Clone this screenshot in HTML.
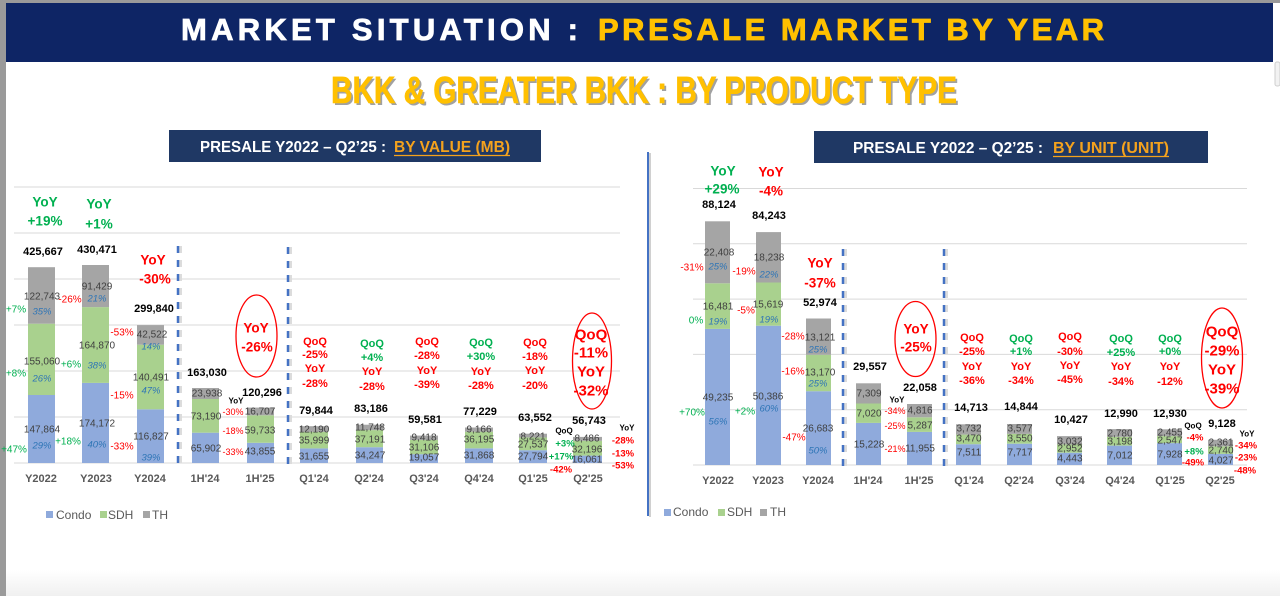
<!DOCTYPE html>
<html><head><meta charset="utf-8">
<style>
html,body{margin:0;padding:0;width:1280px;height:596px;overflow:hidden;background:#fff}
svg{display:block}
text{font-family:"Liberation Sans",sans-serif;text-anchor:middle;dominant-baseline:central}
.h{text-anchor:start;dominant-baseline:auto;font-weight:bold}
.v{font-size:10px;fill:#404040}
.p{font-size:9.5px;font-style:italic;fill:#2e75b6}
.t{font-size:11px;font-weight:bold;fill:#000}
.s{font-size:10px}
.g{fill:#00b050}
.r{fill:#ff0000}
.a{font-size:11px;font-weight:bold}
.b{font-size:13.5px;font-weight:bold}
.e{font-size:15px;font-weight:bold;fill:#ff0000}
.c{font-size:11px;font-weight:bold;fill:#595959}
.k{font-size:8px;font-weight:bold;fill:#000}
.m{font-size:9px}
.n{font-size:9.5px;font-weight:bold}
.l{font-size:12px;fill:#595959;text-anchor:start}
</style></head>
<body>
<svg width="1280" height="596" viewBox="0 0 1280 596" xmlns="http://www.w3.org/2000/svg">
<defs>
<linearGradient id="bg" x1="0" y1="0" x2="0" y2="1"><stop offset="0" stop-color="#ffffff"/><stop offset="1" stop-color="#f0f0f0"/></linearGradient>
</defs>
<rect x="0" y="0" width="1280" height="596" fill="#fff"/>
<rect x="0" y="570" width="1280" height="26" fill="url(#bg)"/>
<!-- borders -->
<rect x="0" y="0" width="1280" height="3" fill="#9a9a9a"/>
<rect x="0" y="0" width="6" height="596" fill="#9a9a9a"/>
<rect x="1275" y="62" width="5" height="24" rx="2" fill="#f2f2f2" stroke="#cfcfcf" stroke-width="1"/>
<!-- header -->
<rect x="6" y="3" width="1267" height="59" fill="#0e2565"/>
<text class="h" x="181" y="40" font-size="31" fill="#fff" stroke="#fff" stroke-width="0.8" textLength="397">MARKET SITUATION :</text>
<text class="h" x="598" y="40" font-size="31" fill="#ffc000" stroke="#ffc000" stroke-width="0.8" textLength="506">PRESALE MARKET BY YEAR</text>
<!-- subtitle -->
<text class="h" x="333" y="105" font-size="38" fill="#8a8a8a" fill-opacity="0.8" textLength="626" lengthAdjust="spacingAndGlyphs">BKK &amp; GREATER BKK : BY PRODUCT TYPE</text>
<text class="h" x="331" y="103" font-size="38" fill="#ffc000" stroke="#ffc000" stroke-width="0.6" textLength="626" lengthAdjust="spacingAndGlyphs">BKK &amp; GREATER BKK : BY PRODUCT TYPE</text>
<!-- title boxes -->
<rect x="169" y="130" width="372" height="32" fill="#1f3864"/>
<text class="h" x="200" y="152" font-size="16" fill="#fff" textLength="186" lengthAdjust="spacingAndGlyphs">PRESALE Y2022 – Q2’25 :</text>
<text class="h" x="394" y="152" font-size="16" fill="#f4a21d" textLength="116" lengthAdjust="spacingAndGlyphs">BY VALUE (MB)</text>
<line x1="394" y1="155.5" x2="510" y2="155.5" stroke="#f4a21d" stroke-width="1.2"/>
<rect x="814" y="131" width="394" height="32" fill="#1f3864"/>
<text class="h" x="853" y="153" font-size="16" fill="#fff" textLength="190" lengthAdjust="spacingAndGlyphs">PRESALE Y2022 – Q2’25  :</text>
<text class="h" x="1053" y="153" font-size="16" fill="#f4a21d" textLength="116" lengthAdjust="spacingAndGlyphs">BY UNIT (UNIT)</text>
<line x1="1053" y1="156.5" x2="1169" y2="156.5" stroke="#f4a21d" stroke-width="1.2"/>
<!-- divider -->
<line x1="650" y1="153" x2="650" y2="517" stroke="#d0d0d0" stroke-width="2"/>
<line x1="648" y1="152" x2="648" y2="516" stroke="#4472c4" stroke-width="2"/>

<!-- ============ LEFT CHART ============ -->
<g stroke="#d9d9d9" stroke-width="1">
<line x1="14" y1="187" x2="620" y2="187"/>
<line x1="14" y1="233" x2="620" y2="233"/>
<line x1="14" y1="279" x2="620" y2="279"/>
<line x1="14" y1="325" x2="620" y2="325"/>
<line x1="14" y1="371" x2="620" y2="371"/>
<line x1="14" y1="417" x2="620" y2="417"/>
<line x1="14" y1="463" x2="620" y2="463"/>
</g>
<!-- bars -->
<g>
<rect x="28" y="395.0" width="27" height="68.0" fill="#8faadc"/>
<rect x="28" y="323.7" width="27" height="71.3" fill="#a9d18e"/>
<rect x="28" y="267.2" width="27" height="56.5" fill="#a5a5a5"/>
<rect x="82" y="382.9" width="27" height="80.1" fill="#8faadc"/>
<rect x="82" y="307.1" width="27" height="75.8" fill="#a9d18e"/>
<rect x="82" y="265.0" width="27" height="42.1" fill="#a5a5a5"/>
<rect x="137" y="409.3" width="27" height="53.7" fill="#8faadc"/>
<rect x="137" y="344.7" width="27" height="64.6" fill="#a9d18e"/>
<rect x="137" y="325.1" width="27" height="19.6" fill="#a5a5a5"/>
<rect x="192" y="432.7" width="27" height="30.3" fill="#8faadc"/>
<rect x="192" y="399.0" width="27" height="33.7" fill="#a9d18e"/>
<rect x="192" y="388.0" width="27" height="11.0" fill="#a5a5a5"/>
<rect x="247" y="442.8" width="27" height="20.2" fill="#8faadc"/>
<rect x="247" y="415.3" width="27" height="27.5" fill="#a9d18e"/>
<rect x="247" y="407.6" width="27" height="7.7" fill="#a5a5a5"/>
<rect x="300" y="448.4" width="28" height="14.6" fill="#8faadc"/>
<rect x="300" y="431.8" width="28" height="16.6" fill="#a9d18e"/>
<rect x="300" y="426.2" width="28" height="5.6" fill="#a5a5a5"/>
<rect x="356" y="447.2" width="27" height="15.8" fill="#8faadc"/>
<rect x="356" y="430.1" width="27" height="17.1" fill="#a9d18e"/>
<rect x="356" y="424.7" width="27" height="5.4" fill="#a5a5a5"/>
<rect x="410" y="454.2" width="28" height="8.8" fill="#8faadc"/>
<rect x="410" y="439.9" width="28" height="14.3" fill="#a9d18e"/>
<rect x="410" y="435.6" width="28" height="4.3" fill="#a5a5a5"/>
<rect x="465" y="448.3" width="28" height="14.7" fill="#8faadc"/>
<rect x="465" y="431.7" width="28" height="16.6" fill="#a9d18e"/>
<rect x="465" y="427.5" width="28" height="4.2" fill="#a5a5a5"/>
<rect x="519" y="450.2" width="28" height="12.8" fill="#8faadc"/>
<rect x="519" y="437.5" width="28" height="12.7" fill="#a9d18e"/>
<rect x="519" y="433.7" width="28" height="3.8" fill="#a5a5a5"/>
<rect x="573" y="455.6" width="29" height="7.4" fill="#8faadc"/>
<rect x="573" y="440.8" width="29" height="14.8" fill="#a9d18e"/>
<rect x="573" y="436.9" width="29" height="3.9" fill="#a5a5a5"/>
</g>
<!-- dashed separators -->
<g stroke-dasharray="7 7">
<line x1="180.5" y1="246" x2="180.5" y2="468" stroke="#dcdcdc" stroke-width="3"/>
<line x1="178" y1="246" x2="178" y2="468" stroke="#4472c4" stroke-width="2.5"/>
<line x1="290.5" y1="247" x2="290.5" y2="468" stroke="#dcdcdc" stroke-width="3"/>
<line x1="288" y1="247" x2="288" y2="468" stroke="#4472c4" stroke-width="2.5"/>
</g>
<!-- Y2022 labels -->
<text class="b g" x="45" y="202">YoY</text>
<text class="b g" x="45" y="221">+19%</text>
<text class="t" x="43" y="252">425,667</text>
<text class="v" x="42" y="297">122,743</text>
<text class="p" x="42" y="312">35%</text>
<text class="v" x="42" y="362">155,060</text>
<text class="p" x="42" y="379">26%</text>
<text class="v" x="42" y="430">147,864</text>
<text class="p" x="42" y="446">29%</text>
<text class="s g" x="16" y="310">+7%</text>
<text class="s g" x="16" y="374">+8%</text>
<text class="s g" x="14" y="450">+47%</text>
<!-- Y2023 -->
<text class="b g" x="99" y="204">YoY</text>
<text class="b g" x="99" y="224">+1%</text>
<text class="t" x="97" y="250">430,471</text>
<text class="v" x="97" y="287">91,429</text>
<text class="p" x="97" y="299">21%</text>
<text class="v" x="97" y="346">164,870</text>
<text class="p" x="97" y="366">38%</text>
<text class="v" x="97" y="424">174,172</text>
<text class="p" x="97" y="445">40%</text>
<text class="s r" x="70" y="300">-26%</text>
<text class="s g" x="71" y="365">+6%</text>
<text class="s g" x="68" y="442">+18%</text>
<!-- Y2024 -->
<text class="b r" x="153" y="260">YoY</text>
<text class="b r" x="155" y="279">-30%</text>
<text class="t" x="154" y="309">299,840</text>
<text class="v" x="152" y="335">42,522</text>
<text class="p" x="151" y="347">14%</text>
<text class="v" x="151" y="378">140,491</text>
<text class="p" x="151" y="391">47%</text>
<text class="v" x="151" y="437">116,827</text>
<text class="p" x="151" y="458">39%</text>
<text class="s r" x="122" y="333">-53%</text>
<text class="s r" x="122" y="396">-15%</text>
<text class="s r" x="122" y="447">-33%</text>
<!-- 1H'24 -->
<text class="t" x="207" y="373">163,030</text>
<text class="v" x="207" y="394">23,938</text>
<text class="v" x="206" y="417">73,190</text>
<text class="v" x="206" y="449">65,902</text>
<!-- 1H'25 -->
<ellipse cx="256.5" cy="336" rx="20.5" ry="41" fill="none" stroke="#ff0000" stroke-width="1.3"/>
<text class="b r" x="256" y="328" font-size="14">YoY</text>
<text class="b r" x="257" y="347" font-size="14">-26%</text>
<text class="t" x="262" y="393">120,296</text>
<text class="k" x="236" y="401">YoY</text>
<text class="m r" x="233" y="412">-30%</text>
<text class="m r" x="233" y="431">-18%</text>
<text class="m r" x="233" y="452">-33%</text>
<text class="v" x="260" y="412">16,707</text>
<text class="v" x="260" y="431">59,733</text>
<text class="v" x="260" y="452">43,855</text>
<!-- Q1'24 -->
<text class="a r" x="315" y="342">QoQ</text>
<text class="a r" x="315" y="355">-25%</text>
<text class="a r" x="315" y="369">YoY</text>
<text class="a r" x="315" y="384">-28%</text>
<text class="t" x="316" y="411">79,844</text>
<text class="v" x="314" y="430">12,190</text>
<text class="v" x="314" y="441">35,999</text>
<text class="v" x="314" y="457">31,655</text>
<!-- Q2'24 -->
<text class="a g" x="372" y="344">QoQ</text>
<text class="a g" x="372" y="358">+4%</text>
<text class="a r" x="372" y="372">YoY</text>
<text class="a r" x="372" y="387">-28%</text>
<text class="t" x="371" y="409">83,186</text>
<text class="v" x="370" y="428">11,748</text>
<text class="v" x="370" y="440">37,191</text>
<text class="v" x="370" y="456">34,247</text>
<!-- Q3'24 -->
<text class="a r" x="427" y="342">QoQ</text>
<text class="a r" x="427" y="356">-28%</text>
<text class="a r" x="427" y="371">YoY</text>
<text class="a r" x="427" y="385">-39%</text>
<text class="t" x="425" y="420">59,581</text>
<text class="v" x="424" y="438">9,418</text>
<text class="v" x="424" y="448">31,106</text>
<text class="v" x="424" y="458">19,057</text>
<!-- Q4'24 -->
<text class="a g" x="481" y="343">QoQ</text>
<text class="a g" x="481" y="357">+30%</text>
<text class="a r" x="481" y="372">YoY</text>
<text class="a r" x="481" y="386">-28%</text>
<text class="t" x="480" y="412">77,229</text>
<text class="v" x="479" y="430">9,166</text>
<text class="v" x="479" y="440">36,195</text>
<text class="v" x="479" y="456">31,868</text>
<!-- Q1'25 -->
<text class="a r" x="535" y="343">QoQ</text>
<text class="a r" x="535" y="357">-18%</text>
<text class="a r" x="535" y="371">YoY</text>
<text class="a r" x="535" y="386">-20%</text>
<text class="t" x="535" y="418">63,552</text>
<text class="v" x="533" y="437">8,221</text>
<text class="v" x="533" y="445">27,537</text>
<text class="v" x="533" y="457">27,794</text>
<text class="k" x="564" y="431" font-size="9">QoQ</text>
<text class="n g" x="565" y="444">+3%</text>
<text class="n g" x="561" y="457">+17%</text>
<text class="n r" x="561" y="470">-42%</text>
<!-- Q2'25 -->
<ellipse cx="592" cy="361" rx="19.5" ry="48" fill="none" stroke="#ff0000" stroke-width="1.3"/>
<text class="e" x="591" y="335">QoQ</text>
<text class="e" x="591" y="353">-11%</text>
<text class="e" x="591" y="372">YoY</text>
<text class="e" x="591" y="391">-32%</text>
<text class="t" x="589" y="421">56,743</text>
<text class="v" x="587" y="439">8,486</text>
<text class="v" x="587" y="450">32,196</text>
<text class="v" x="587" y="460">16,061</text>
<text class="k" x="627" y="428" font-size="9">YoY</text>
<text class="n r" x="623" y="441">-28%</text>
<text class="n r" x="623" y="454">-13%</text>
<text class="n r" x="623" y="466">-53%</text>
<!-- left categories -->
<text class="c" x="41" y="479">Y2022</text>
<text class="c" x="96" y="479">Y2023</text>
<text class="c" x="150" y="479">Y2024</text>
<text class="c" x="205" y="479">1H'24</text>
<text class="c" x="260" y="479">1H'25</text>
<text class="c" x="314" y="479">Q1'24</text>
<text class="c" x="369" y="479">Q2'24</text>
<text class="c" x="424" y="479">Q3'24</text>
<text class="c" x="479" y="479">Q4'24</text>
<text class="c" x="533" y="479">Q1'25</text>
<text class="c" x="588" y="479">Q2'25</text>
<!-- left legend -->
<rect x="46" y="511" width="7" height="7" fill="#8faadc"/>
<text class="l" x="56" y="515">Condo</text>
<rect x="100" y="511" width="7" height="7" fill="#a9d18e"/>
<text class="l" x="108" y="515">SDH</text>
<rect x="143" y="511" width="7" height="7" fill="#a5a5a5"/>
<text class="l" x="152" y="515">TH</text>

<!-- ============ RIGHT CHART ============ -->
<g stroke="#d9d9d9" stroke-width="1">
<line x1="693" y1="188.5" x2="1247" y2="188.5"/>
<line x1="693" y1="243.8" x2="1247" y2="243.8"/>
<line x1="693" y1="299.1" x2="1247" y2="299.1"/>
<line x1="693" y1="354.4" x2="1247" y2="354.4"/>
<line x1="693" y1="409.7" x2="1247" y2="409.7"/>
<line x1="693" y1="465" x2="1247" y2="465"/>
</g>
<g>
<rect x="705" y="328.9" width="25" height="136.1" fill="#8faadc"/>
<rect x="705" y="283.3" width="25" height="45.6" fill="#a9d18e"/>
<rect x="705" y="221.3" width="25" height="62.0" fill="#a5a5a5"/>
<rect x="756" y="325.7" width="25" height="139.3" fill="#8faadc"/>
<rect x="756" y="282.5" width="25" height="43.2" fill="#a9d18e"/>
<rect x="756" y="232.1" width="25" height="50.4" fill="#a5a5a5"/>
<rect x="806" y="391.2" width="25" height="73.8" fill="#8faadc"/>
<rect x="806" y="354.8" width="25" height="36.4" fill="#a9d18e"/>
<rect x="806" y="318.5" width="25" height="36.3" fill="#a5a5a5"/>
<rect x="856" y="422.9" width="25" height="42.1" fill="#8faadc"/>
<rect x="856" y="403.5" width="25" height="19.4" fill="#a9d18e"/>
<rect x="856" y="383.3" width="25" height="20.2" fill="#a5a5a5"/>
<rect x="907" y="431.9" width="25" height="33.1" fill="#8faadc"/>
<rect x="907" y="417.3" width="25" height="14.6" fill="#a9d18e"/>
<rect x="907" y="404.0" width="25" height="13.3" fill="#a5a5a5"/>
<rect x="956" y="444.2" width="25" height="20.8" fill="#8faadc"/>
<rect x="956" y="434.6" width="25" height="9.6" fill="#a9d18e"/>
<rect x="956" y="424.3" width="25" height="10.3" fill="#a5a5a5"/>
<rect x="1007" y="443.7" width="25" height="21.3" fill="#8faadc"/>
<rect x="1007" y="433.9" width="25" height="9.8" fill="#a9d18e"/>
<rect x="1007" y="424.0" width="25" height="9.9" fill="#a5a5a5"/>
<rect x="1057" y="452.7" width="25" height="12.3" fill="#8faadc"/>
<rect x="1057" y="444.5" width="25" height="8.2" fill="#a9d18e"/>
<rect x="1057" y="436.1" width="25" height="8.4" fill="#a5a5a5"/>
<rect x="1107" y="445.6" width="25" height="19.4" fill="#8faadc"/>
<rect x="1107" y="436.8" width="25" height="8.8" fill="#a9d18e"/>
<rect x="1107" y="429.1" width="25" height="7.7" fill="#a5a5a5"/>
<rect x="1157" y="443.1" width="25" height="21.9" fill="#8faadc"/>
<rect x="1157" y="436.1" width="25" height="7.0" fill="#a9d18e"/>
<rect x="1157" y="429.3" width="25" height="6.8" fill="#a5a5a5"/>
<rect x="1208" y="453.9" width="25" height="11.1" fill="#8faadc"/>
<rect x="1208" y="446.3" width="25" height="7.6" fill="#a9d18e"/>
<rect x="1208" y="439.8" width="25" height="6.5" fill="#a5a5a5"/>
</g>
<g stroke-dasharray="7 7">
<line x1="845.5" y1="249" x2="845.5" y2="468" stroke="#dcdcdc" stroke-width="3"/>
<line x1="843" y1="249" x2="843" y2="468" stroke="#4472c4" stroke-width="2.5"/>
<line x1="946.5" y1="249" x2="946.5" y2="466" stroke="#dcdcdc" stroke-width="3"/>
<line x1="944" y1="249" x2="944" y2="466" stroke="#4472c4" stroke-width="2.5"/>
</g>
<!-- Y2022 -->
<text class="b g" x="723" y="171">YoY</text>
<text class="b g" x="722" y="189">+29%</text>
<text class="t" x="719" y="205">88,124</text>
<text class="v" x="719" y="253">22,408</text>
<text class="p" x="718" y="267">25%</text>
<text class="v" x="718" y="307">16,481</text>
<text class="p" x="718" y="322">19%</text>
<text class="v" x="718" y="398">49,235</text>
<text class="p" x="718" y="422">56%</text>
<text class="s r" x="692" y="268">-31%</text>
<text class="s g" x="696" y="321">0%</text>
<text class="s g" x="692" y="413">+70%</text>
<!-- Y2023 -->
<text class="b r" x="771" y="172">YoY</text>
<text class="b r" x="771" y="191">-4%</text>
<text class="t" x="769" y="216">84,243</text>
<text class="v" x="769" y="258">18,238</text>
<text class="p" x="769" y="275">22%</text>
<text class="v" x="768" y="305">15,619</text>
<text class="p" x="769" y="320">19%</text>
<text class="v" x="768" y="397">50,386</text>
<text class="p" x="769" y="409">60%</text>
<text class="s r" x="744" y="272">-19%</text>
<text class="s r" x="746" y="311">-5%</text>
<text class="s g" x="745" y="412">+2%</text>
<!-- Y2024 -->
<text class="b r" x="820" y="263">YoY</text>
<text class="b r" x="820" y="283">-37%</text>
<text class="t" x="820" y="303">52,974</text>
<text class="v" x="820" y="338">13,121</text>
<text class="p" x="818" y="350">25%</text>
<text class="v" x="820" y="373">13,170</text>
<text class="p" x="818" y="384">25%</text>
<text class="v" x="818" y="429">26,683</text>
<text class="p" x="818" y="451">50%</text>
<text class="s r" x="793" y="337">-28%</text>
<text class="s r" x="793" y="372">-16%</text>
<text class="s r" x="794" y="438">-47%</text>
<!-- 1H'24 -->
<text class="t" x="870" y="367">29,557</text>
<text class="v" x="869" y="394">7,309</text>
<text class="v" x="869" y="414">7,020</text>
<text class="v" x="869" y="445">15,228</text>
<!-- 1H'25 -->
<ellipse cx="915.5" cy="339" rx="20.5" ry="37.5" fill="none" stroke="#ff0000" stroke-width="1.3"/>
<text class="b r" x="916" y="329" font-size="14">YoY</text>
<text class="b r" x="916" y="347" font-size="14">-25%</text>
<text class="t" x="920" y="388">22,058</text>
<text class="k" x="897" y="400">YoY</text>
<text class="m r" x="895" y="411">-34%</text>
<text class="m r" x="895" y="426">-25%</text>
<text class="m r" x="895" y="449">-21%</text>
<text class="v" x="920" y="411">4,816</text>
<text class="v" x="920" y="426">5,287</text>
<text class="v" x="920" y="449">11,955</text>
<!-- Q1'24 -->
<text class="a r" x="972" y="338">QoQ</text>
<text class="a r" x="972" y="352">-25%</text>
<text class="a r" x="972" y="367">YoY</text>
<text class="a r" x="972" y="381">-36%</text>
<text class="t" x="971" y="408">14,713</text>
<text class="v" x="969" y="429">3,732</text>
<text class="v" x="969" y="439">3,470</text>
<text class="v" x="969" y="453">7,511</text>
<!-- Q2'24 -->
<text class="a g" x="1021" y="339">QoQ</text>
<text class="a g" x="1021" y="352">+1%</text>
<text class="a r" x="1021" y="367">YoY</text>
<text class="a r" x="1021" y="381">-34%</text>
<text class="t" x="1021" y="407">14,844</text>
<text class="v" x="1020" y="429">3,577</text>
<text class="v" x="1020" y="439">3,550</text>
<text class="v" x="1020" y="453">7,717</text>
<!-- Q3'24 -->
<text class="a r" x="1070" y="337">QoQ</text>
<text class="a r" x="1070" y="352">-30%</text>
<text class="a r" x="1070" y="366">YoY</text>
<text class="a r" x="1070" y="380">-45%</text>
<text class="t" x="1071" y="420">10,427</text>
<text class="v" x="1070" y="442">3,032</text>
<text class="v" x="1070" y="449">2,952</text>
<text class="v" x="1070" y="459">4,443</text>
<!-- Q4'24 -->
<text class="a g" x="1121" y="339">QoQ</text>
<text class="a g" x="1121" y="353">+25%</text>
<text class="a r" x="1121" y="367">YoY</text>
<text class="a r" x="1121" y="382">-34%</text>
<text class="t" x="1121" y="414">12,990</text>
<text class="v" x="1120" y="434">2,780</text>
<text class="v" x="1120" y="442">3,198</text>
<text class="v" x="1120" y="456">7,012</text>
<!-- Q1'25 -->
<text class="a g" x="1170" y="339">QoQ</text>
<text class="a g" x="1170" y="352">+0%</text>
<text class="a r" x="1170" y="367">YoY</text>
<text class="a r" x="1170" y="382">-12%</text>
<text class="t" x="1170" y="414">12,930</text>
<text class="v" x="1170" y="433">2,455</text>
<text class="v" x="1170" y="441">2,547</text>
<text class="v" x="1170" y="455">7,928</text>
<text class="k" x="1193" y="426" font-size="9">QoQ</text>
<text class="n r" x="1195" y="438">-4%</text>
<text class="n g" x="1194" y="452">+8%</text>
<text class="n r" x="1193" y="463">-49%</text>
<!-- Q2'25 -->
<ellipse cx="1222" cy="358" rx="20.5" ry="50" fill="none" stroke="#ff0000" stroke-width="1.3"/>
<text class="e" x="1222" y="332">QoQ</text>
<text class="e" x="1222" y="351">-29%</text>
<text class="e" x="1222" y="370">YoY</text>
<text class="e" x="1222" y="389">-39%</text>
<text class="t" x="1222" y="424">9,128</text>
<text class="v" x="1221" y="443">2,361</text>
<text class="v" x="1221" y="451">2,740</text>
<text class="v" x="1221" y="461">4,027</text>
<text class="k" x="1247" y="434" font-size="9">YoY</text>
<text class="n r" x="1246" y="446">-34%</text>
<text class="n r" x="1246" y="458">-23%</text>
<text class="n r" x="1245" y="471">-48%</text>
<!-- right categories -->
<text class="c" x="718" y="481">Y2022</text>
<text class="c" x="768" y="481">Y2023</text>
<text class="c" x="818" y="481">Y2024</text>
<text class="c" x="868" y="481">1H'24</text>
<text class="c" x="919" y="481">1H'25</text>
<text class="c" x="969" y="481">Q1'24</text>
<text class="c" x="1019" y="481">Q2'24</text>
<text class="c" x="1070" y="481">Q3'24</text>
<text class="c" x="1120" y="481">Q4'24</text>
<text class="c" x="1170" y="481">Q1'25</text>
<text class="c" x="1220" y="481">Q2'25</text>
<!-- right legend -->
<rect x="664" y="509" width="7" height="7" fill="#8faadc"/>
<text class="l" x="673" y="512">Condo</text>
<rect x="718" y="509" width="7" height="7" fill="#a9d18e"/>
<text class="l" x="727" y="512">SDH</text>
<rect x="760" y="509" width="7" height="7" fill="#a5a5a5"/>
<text class="l" x="770" y="512">TH</text>
</svg>
</body></html>
